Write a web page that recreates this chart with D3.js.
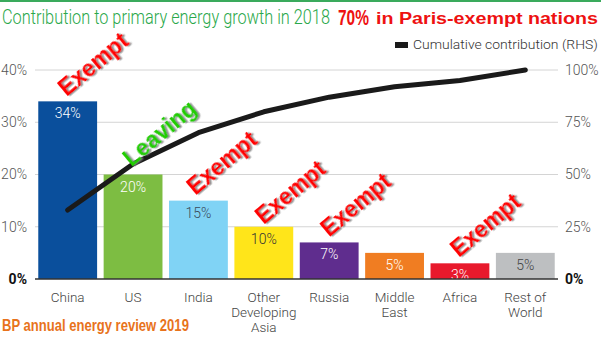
<!DOCTYPE html>
<html>
<head>
<meta charset="utf-8">
<script src="https://cdn.jsdelivr.net/npm/d3@7"></script>
<style>
  body { margin: 0; background: #fff; }
  svg { display: block; font-family: Roboto, "Liberation Sans", sans-serif; }
</style>
</head>
<body>
<div id="chart"></div>
<script>
// Regions and their share of 2018 primary energy growth
const regions = ['China', 'US', 'India', 'Other Developing Asia', 'Russia', 'Middle East', 'Africa', 'Rest of World'];
const regionLines = [['China'], ['US'], ['India'], ['Other', 'Developing', 'Asia'], ['Russia'], ['Middle', 'East'], ['Africa'], ['Rest of', 'World']];
const share = [34, 20, 15, 10, 7, 5, 3, 5];
const cumulative = [33, 55, 70, 80, 87, 92, 95, 100];
const barColors = ['#0a4f9c', '#7dbd42', '#80d3f5', '#ffe51a', '#5f2d8e', '#f07d22', '#e8192c', '#bdbfc1'];
const labelColors = ['#fff', '#fff', '#3a4a5a', '#333', '#fff', '#fff', '#fff', '#444'];
const leftTicks = [0, 10, 20, 30, 40];
const rightTicks = [0, 25, 50, 75, 100];

// Rotated callouts: text, which bar they sit over, centre height in %
const callouts = [
  { text: 'Exempt', region: 'China', dx: 55, y: 41.1, color: '#ff0000' },
  { text: 'Leaving', region: 'US', dx: 56, y: 27.9, color: '#22cc00' },
  { text: 'Exempt', region: 'India', dx: 53, y: 22.2, color: '#ff0000' },
  { text: 'Exempt', region: 'Other Developing Asia', dx: 56, y: 16.6, color: '#ff0000' },
  { text: 'Exempt', region: 'Russia', dx: 56, y: 14.2, color: '#ff0000' },
  { text: 'Exempt', region: 'Africa', dx: 55, y: 10.3, color: '#ff0000' }
];

const W = 601, H = 337;
const svg = d3.select('#chart').append('svg')
  .attr('width', W).attr('height', H);

const defs = svg.append('defs');
const shadow = defs.append('filter').attr('id', 'shadow')
  .attr('x', '-20%').attr('y', '-20%').attr('width', '140%').attr('height', '140%');
shadow.append('feDropShadow')
  .attr('dx', 1.5).attr('dy', 1.5).attr('stdDeviation', 0.6)
  .attr('flood-color', '#777').attr('flood-opacity', 0.8);

// squeeze a text horizontally so it spans the given width from (x0, y0)
function fitText(sel, x0, y0, width) {
  const natural = sel.node().getComputedTextLength();
  sel.attr('x', 0).attr('y', 0)
    .attr('transform', `translate(${x0},${y0}) scale(${width / natural},1)`);
  return sel;
}

const x = d3.scaleBand()
  .domain(regions)
  .range([35, 558])
  .paddingInner(0.1)
  .paddingOuter(0.05);

const y = d3.scaleLinear().domain([0, 40]).range([279, 70]);
const yRight = d3.scaleLinear().domain([0, 100]).range([279, 70]);

// Top rule
svg.append('rect').attr('x', 0).attr('y', 0).attr('width', W).attr('height', 2).attr('fill', '#3aaa5c');

// Header
fitText(svg.append('text')
  .attr('fill', '#2aa84a')
  .attr('font-size', 20).attr('font-weight', 300)
  .text('Contribution to primary energy growth in 2018'), 2, 24, 328);

fitText(svg.append('text')
  .attr('fill', '#ee1111')
  .attr('font-family', 'Liberation Sans Narrow, Liberation Sans, sans-serif')
  .attr('font-size', 22).attr('font-weight', 'bold')
  .text('70%'), 338, 25, 31);

fitText(svg.append('text')
  .attr('fill', '#ee1111')
  .attr('font-family', 'Liberation Sans Narrow, Liberation Sans, sans-serif')
  .attr('font-size', 16).attr('font-weight', 'bold')
  .text('in Paris-exempt nations'), 376, 24, 222);

// Legend
svg.append('rect').attr('x', 395).attr('y', 42).attr('width', 13).attr('height', 6).attr('fill', '#1a1a1a');
fitText(svg.append('text')
  .attr('fill', '#333').attr('font-size', 13).attr('font-weight', 300)
  .text('Cumulative contribution (RHS)'), 413, 49, 185);

// Gridlines
svg.append('g')
  .selectAll('line')
  .data(leftTicks.slice(1))
  .join('line')
  .attr('x1', 35).attr('x2', 558)
  .attr('y1', d => y(d)).attr('y2', d => y(d))
  .attr('stroke', '#d4d4d4').attr('stroke-width', 1);

// Left axis
const leftAxis = svg.append('g')
  .attr('transform', 'translate(30,0)')
  .call(d3.axisLeft(y).tickValues(leftTicks).tickFormat(d => d + '%').tickSize(0).tickPadding(3));
leftAxis.select('.domain').remove();
leftAxis.selectAll('text')
  .attr('font-size', 14).attr('font-family', 'Roboto, sans-serif')
  .attr('font-weight', d => d === 0 ? 'bold' : 300)
  .attr('fill', d => d === 0 ? '#111' : '#555');

// Right axis
const rightAxis = svg.append('g')
  .attr('transform', 'translate(562,0)')
  .call(d3.axisRight(yRight).tickValues(rightTicks).tickFormat(d => d + '%').tickSize(0).tickPadding(3));
rightAxis.select('.domain').remove();
rightAxis.selectAll('text')
  .attr('font-size', 14).attr('font-family', 'Roboto, sans-serif')
  .attr('font-weight', d => d === 0 ? 'bold' : 300)
  .attr('fill', d => d === 0 ? '#111' : '#555');

// Bars
svg.append('g')
  .selectAll('rect')
  .data(regions)
  .join('rect')
  .attr('x', d => x(d))
  .attr('width', x.bandwidth())
  .attr('y', (d, i) => y(share[i]))
  .attr('height', (d, i) => y(0) - y(share[i]))
  .attr('fill', (d, i) => barColors[i]);

// Bar value labels
svg.append('g')
  .selectAll('text')
  .data(regions)
  .join('text')
  .attr('x', d => x(d) + x.bandwidth() / 2)
  .attr('y', (d, i) => y(share[i]) + 17)
  .attr('text-anchor', 'middle')
  .attr('font-size', 14).attr('font-weight', 300)
  .attr('fill', (d, i) => labelColors[i])
  .text((d, i) => share[i] + '%');

// Baseline
svg.append('line')
  .attr('x1', 35).attr('x2', 558)
  .attr('y1', y(0)).attr('y2', y(0))
  .attr('stroke', '#333').attr('stroke-width', 1.5);

// Category labels
const cats = svg.append('g')
  .selectAll('text')
  .data(regions)
  .join('text')
  .attr('x', d => x(d) + x.bandwidth() / 2)
  .attr('y', 302)
  .attr('text-anchor', 'middle')
  .attr('font-size', 13.5).attr('font-weight', 300)
  .attr('fill', '#444');
cats.selectAll('tspan')
  .data((d, i) => regionLines[i])
  .join('tspan')
  .attr('x', function () { return this.parentNode.getAttribute('x'); })
  .attr('dy', (d, i) => i === 0 ? 0 : 15)
  .text(d => d);

// Cumulative line
const line = d3.line()
  .x((d, i) => x(regions[i]) + x.bandwidth() / 2)
  .y(d => yRight(d));
svg.append('path')
  .datum(cumulative)
  .attr('d', line)
  .attr('fill', 'none')
  .attr('stroke', '#1a1a1a')
  .attr('stroke-width', 5)
  .attr('stroke-linecap', 'round')
  .attr('stroke-linejoin', 'round');

// Callouts
svg.append('g')
  .selectAll('text')
  .data(callouts)
  .join('text')
  .attr('transform', d => `translate(${x(d.region) + d.dx},${y(d.y)}) rotate(-40)`)
  .attr('text-anchor', 'middle')
  .attr('dy', '0.35em')
  .attr('font-family', 'Liberation Sans, Arial, sans-serif')
  .attr('font-size', 23).attr('font-weight', 'bold')
  .attr('fill', d => d.color)
  .attr('filter', 'url(#shadow)')
  .text(d => d.text);

// Source
fitText(svg.append('text')
  .attr('fill', '#e8731c')
  .attr('font-family', 'Liberation Sans Narrow, Liberation Sans, sans-serif')
  .attr('font-size', 16).attr('font-weight', 'bold')
  .text('BP annual energy review 2019'), 2, 331, 187);
</script>
</body>
</html>
